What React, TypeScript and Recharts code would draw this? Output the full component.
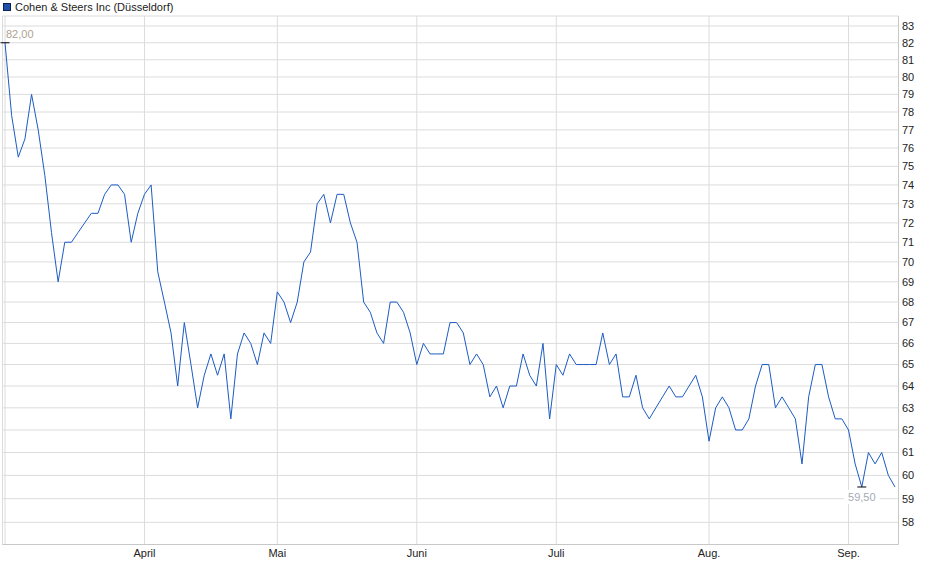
import React from 'react';
import {
  CartesianGrid,
  Line,
  LineChart,
  XAxis,
  YAxis,
} from 'recharts';

// Schlusskurse je Handelstag, 03.03. bis Anfang September
const prices = [
  82.0, 77.8, 75.5, 76.5, 79.0, 77.0, 74.5, 71.5, 69.0, 71.0,
  71.0, 71.5, 72.0, 72.5, 72.5, 73.5, 74.0, 74.0, 73.5, 71.0,
  72.5, 73.5, 74.0, 69.5, 68.0, 66.5, 64.0, 67.0, 65.0, 63.0,
  64.5, 65.5, 64.5, 65.5, 62.5, 65.5, 66.5, 66.0, 65.0, 66.5,
  66.0, 68.5, 68.0, 67.0, 68.0, 70.0, 70.5, 73.0, 73.5, 72.0,
  73.5, 73.5, 72.0, 71.0, 68.0, 67.5, 66.5, 66.0, 68.0, 68.0,
  67.5, 66.5, 65.0, 66.0, 65.5, 65.5, 65.5, 67.0, 67.0, 66.5,
  65.0, 65.5, 65.0, 63.5, 64.0, 63.0, 64.0, 64.0, 65.5, 64.5,
  64.0, 66.0, 62.5, 65.0, 64.5, 65.5, 65.0, 65.0, 65.0, 65.0,
  66.5, 65.0, 65.5, 63.5, 63.5, 64.5, 63.0, 62.5, 63.0, 63.5,
  64.0, 63.5, 63.5, 64.0, 64.5, 63.5, 61.5, 63.0, 63.5, 63.0,
  62.0, 62.0, 62.5, 64.0, 65.0, 65.0, 63.0, 63.5, 63.0, 62.5,
  60.5, 63.5, 65.0, 65.0, 63.5, 62.5, 62.5, 62.0, 60.5, 59.5,
  61.0, 60.5, 61.0, 60.0, 59.5,
];

// Index des ersten Handelstags im Monat
const monthTicks = [0, 21, 41, 62, 83, 106, 127];
const monthLabels = ['', 'April', 'Mai', 'Juni', 'Juli', 'Aug.', 'Sep.'];

const priceTicks = [
  58, 59, 60, 61, 62, 63, 64, 65, 66, 67, 68, 69, 70,
  71, 72, 73, 74, 75, 76, 77, 78, 79, 80, 81, 82, 83,
];
const priceDomain = [57.08, 83.6];

const seriesName = 'Cohen & Steers Inc (Düsseldorf)';

const data = prices.map((price, i) => ({ idx: i, price }));

const maxIdx = prices.indexOf(Math.max(...prices));
const minIdx = prices.indexOf(Math.min(...prices));

const FONT = '"Liberation Sans", Arial, sans-serif';
const colors = {
  line: '#1c5bc4',
  grid: '#dcdcdc',
  frame: '#c8c8c8',
  text: '#222222',
  maxLabel: '#ada293',
  minLabel: '#a3abb6',
};

const fmt = (v: number) => v.toFixed(2).replace('.', ',');

function ExtremeDot(props: any) {
  const { cx, cy, index, value } = props;
  if (index === maxIdx) {
    return (
      <g key={`d${index}`}>
        <line x1={cx - 4.5} x2={cx + 4.5} y1={cy} y2={cy} stroke="#000" strokeWidth={1} />
        <text x={cx + 1} y={cy - 4.7} fontSize={11} fontFamily={FONT} fill={colors.maxLabel}>
          {fmt(value)}
        </text>
      </g>
    );
  }
  if (index === minIdx) {
    return (
      <g key={`d${index}`}>
        <line x1={cx - 4.5} x2={cx + 4.5} y1={cy} y2={cy} stroke="#000" strokeWidth={1} />
        <rect x={cx - 18} y={cy + 3} width={36} height={14} fill="#fff" />
        <text x={cx} y={cy + 14.4} fontSize={11} fontFamily={FONT} fill={colors.minLabel} textAnchor="middle">
          {fmt(value)}
        </text>
      </g>
    );
  }
  return <g key={`d${index}`} />;
}

export default function App() {
  const tickStyle = { fontSize: 11, fill: colors.text, fontFamily: FONT };

  return (
    <div style={{ position: 'absolute', left: 0, top: 0, width: 940, height: 579, background: '#fff', fontFamily: FONT }}>
      <div style={{ position: 'absolute', left: 3, top: 0, height: 14, display: 'flex', alignItems: 'center', fontSize: 11, color: colors.text, zIndex: 2 }}>
        <span style={{ display: 'inline-block', width: 6, height: 6, background: '#1f4fa8', border: '1px solid #0b2250', marginRight: 4 }} />
        {seriesName}
      </div>
      <LineChart
        width={940}
        height={579}
        data={data}
        margin={{ top: 16, right: 3.5, bottom: 4.5, left: 2.5 }}
      >
        <CartesianGrid stroke={colors.grid} strokeWidth={1} />
        <XAxis
          dataKey="idx"
          type="number"
          domain={[0, prices.length - 1]}
          ticks={monthTicks}
          tickFormatter={(v) => monthLabels[monthTicks.indexOf(v)] ?? ''}
          padding={{ left: 2.5, right: 3.5 }}
          height={30}
          tickLine={false}
          tickSize={2}
          tickMargin={3}
          axisLine={{ stroke: colors.frame }}
          tick={tickStyle}
          interval={0}
        />
        <XAxis
          xAxisId="top"
          orientation="top"
          dataKey="idx"
          type="number"
          domain={[0, prices.length - 1]}
          height={0}
          tick={false}
          tickLine={false}
          axisLine={{ stroke: colors.frame }}
        />
        <YAxis
          orientation="right"
          type="number"
          scale="log"
          domain={priceDomain}
          allowDataOverflow
          ticks={priceTicks}
          interval={0}
          width={38}
          tickLine={false}
          tickSize={0}
          tickMargin={3.5}
          axisLine={{ stroke: colors.frame }}
          tick={{ ...tickStyle, textAnchor: 'start' }}
        />
        <YAxis
          yAxisId="left"
          orientation="left"
          type="number"
          domain={[0, 1]}
          width={0}
          tick={false}
          tickLine={false}
          axisLine={{ stroke: colors.frame }}
        />
        <Line
          type="linear"
          dataKey="price"
          stroke={colors.line}
          strokeWidth={1}
          dot={ExtremeDot}
          activeDot={false}
          isAnimationActive={false}
        />
      </LineChart>
    </div>
  );
}
